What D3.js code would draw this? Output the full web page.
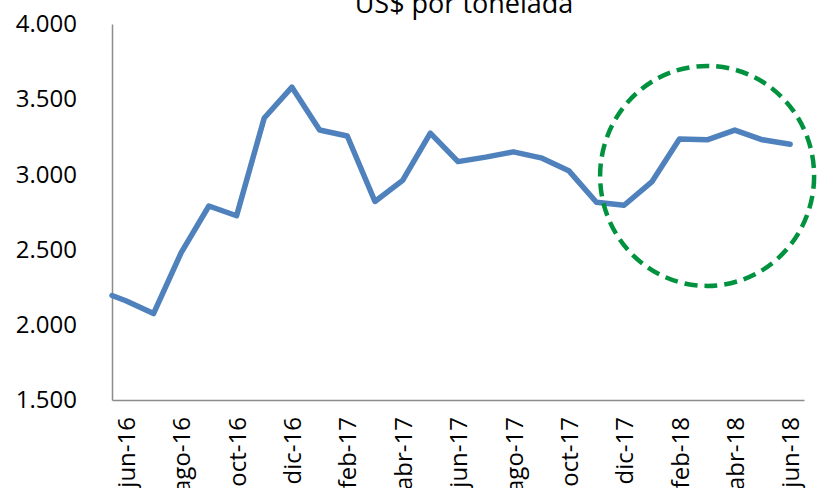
<!DOCTYPE html>
<html>
<head>
<meta charset="utf-8">
<script src="https://cdn.jsdelivr.net/npm/d3@7"></script>
<style>
    body { margin: 0; background: #fff; }
    text { font-family: "Open Sans", sans-serif; fill: #000; }
</style>
</head>
<body>
<script>
// month offsets from jun-16 (the first value sits half a month before)
const monthIdx = [-0.5, 0, 1, 2, 3, 4, 5, 6, 7, 8, 9, 10, 11, 12,
    13, 14, 15, 16, 17, 18, 19, 20, 21, 22, 23, 24];
const prices = [2195, 2160, 2075, 2480, 2790, 2725, 3375, 3580, 3295, 3255, 2820, 2960, 3275,
    3085, 3115, 3150, 3110, 3025, 2815, 2795, 2950, 3235, 3230, 3295, 3230, 3200];

const tickIdx = [0, 2, 4, 6, 8, 10, 12, 14, 16, 18, 20, 22, 24];
const tickLabels = ["jun-16", "ago-16", "oct-16", "dic-16", "feb-17", "abr-17", "jun-17",
    "ago-17", "oct-17", "dic-17", "feb-18", "abr-18", "jun-18"];
const yTicks = [1500, 2000, 2500, 3000, 3500, 4000];

// highlighted area: centre at mar-18, ~2.990
const highlight = {idx: 21, value: 2990};

const svgWidth = 819;
const svgHeight = 488;
const margin = {top: 24, right: 15, bottom: 88, left: 112};
const chartWidth = svgWidth - margin.left - margin.right;
const chartHeight = svgHeight - margin.top - margin.bottom;

const svg = d3.select("body")
    .append("svg")
    .attr("width", svgWidth)
    .attr("height", svgHeight);

const g = svg.append("g")
    .attr("transform", `translate(${margin.left}, ${margin.top})`);

const x = d3.scaleLinear()
    .domain([-0.5, 24.5])
    .range([0, chartWidth]);

const y = d3.scaleLinear()
    .domain([1500, 4000])
    .range([chartHeight, 0]);

const fmt = d3.formatLocale({decimal: ",", thousands: ".", grouping: [3], currency: ["", ""]}).format(",");

// title (partly cut off at the top, as in the original)
svg.append("text")
    .attr("x", 464)
    .attr("y", 13)
    .attr("text-anchor", "middle")
    .style("font-size", "27px")
    .text("US$ por tonelada");

// y axis
const yAxis = g.append("g")
    .call(d3.axisLeft(y).tickValues(yTicks).tickSize(0).tickPadding(35).tickFormat(fmt));
yAxis.select(".domain").attr("stroke", "#8c8c8c").attr("stroke-width", 1.5);
yAxis.selectAll("text")
    .style("font-size", "24px")
    .attr("font-family", null);

// x axis
const xAxis = g.append("g")
    .attr("transform", `translate(0, ${chartHeight})`)
    .call(d3.axisBottom(x).tickValues(tickIdx).tickSize(0).tickFormat((d, i) => tickLabels[i]));
xAxis.select(".domain").attr("stroke", "#8c8c8c").attr("stroke-width", 1.5);
xAxis.selectAll("text")
    .style("font-size", "24px")
    .attr("font-family", null)
    .attr("text-anchor", "end")
    .attr("transform", "rotate(-90)")
    .attr("x", -17)
    .attr("y", 0)
    .attr("dy", "0.36em");

// price line
const line = d3.line()
    .x((d, i) => x(monthIdx[i]))
    .y(d => y(d));

g.append("path")
    .datum(prices)
    .attr("fill", "none")
    .attr("stroke", "#4F81BD")
    .attr("stroke-width", 5.5)
    .attr("stroke-linejoin", "round")
    .attr("stroke-linecap", "round")
    .attr("d", line);

// dashed circle
g.append("ellipse")
    .attr("cx", x(highlight.idx))
    .attr("cy", y(highlight.value))
    .attr("rx", 107)
    .attr("ry", 110)
    .attr("fill", "none")
    .attr("stroke", "#00923F")
    .attr("stroke-width", 4.5)
    .attr("stroke-dasharray", "13 7");
</script>
</body>
</html>
